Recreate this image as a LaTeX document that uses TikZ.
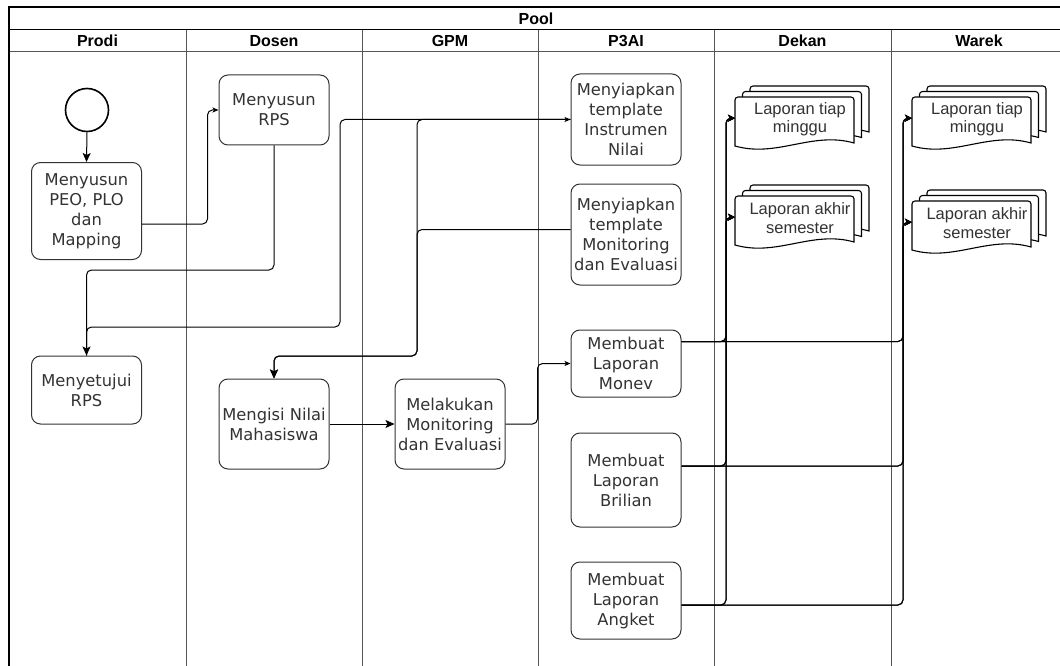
\documentclass[tikz,border=0pt]{standalone}
\usepackage{fontspec}
\setmainfont{DejaVu Sans}
\newfontfamily\hfont{Liberation Sans}
\usetikzlibrary{arrows.meta,calc}
\definecolor{txt}{RGB}{51,51,51}
\definecolor{lanec}{RGB}{85,85,85}
\tikzset{
 proc/.style={draw=black!80, rounded corners=9pt, line width=1pt, align=center,
   font=\fontsize{16.3}{20}\selectfont, text=txt, inner sep=0pt, minimum width=110pt},
 conn/.style={draw=black, line width=1pt, rounded corners=5pt},
 bigarr/.style={-{Stealth[length=9pt,width=8pt,inset=2pt]}},
 smallarr/.style={-{Stealth[length=6pt,width=5pt,inset=1.5pt]}},
 midarr/.style={-{Stealth[length=7pt,width=7pt,inset=1.8pt]}},
 lanehead/.style={font=\hfont\bfseries\fontsize{16}{18}\selectfont},
 doctext/.style={font=\hfont\fontsize{16.5}{18.5}\selectfont, align=center, text=txt},
 lane/.style={draw=lanec, line width=1pt},
}
\newcommand{\dpage}[2]{%
 \filldraw[draw=black, fill=white, line width=1.1pt] ({#1},{#2+49}) [rounded corners=3pt]-- ({#1},{#2}) -- ({#1+119},{#2}) [sharp corners]-- ({#1+119},{#2+46}) .. controls ({#1+77},{#2+34}) and ({#1+42},{#2+61}) .. ({#1},{#2+49}) -- cycle;}
\newcommand{\docstack}[4]{%
 \dpage{#2+15}{#3-11}
 \dpage{#2+7.5}{#3-5.5}
 \dpage{#2}{#3}
 \node[doctext] at ({#2+65},{#3+22}) {#4};
 \node[inner sep=0pt, minimum width=134pt, minimum height=64pt, anchor=north west] (#1) at ({#2},{#3-11}) {};
}
\begin{document}
\begin{tikzpicture}[x=1pt,y=-1pt]
\useasboundingbox (0,0) rectangle (1060,666);
\clip (0,0) rectangle (1060,666);
\fill[white] (0,0) rectangle (1060,666);
% pool
\draw[lane] (186,30) -- (186,700);
\draw[lane] (362,30) -- (362,700);
\draw[lane] (538,30) -- (538,700);
\draw[lane] (714.5,30) -- (714.5,700);
\draw[lane] (891,30) -- (891,700);
\draw[lane] (9,52) -- (1067,52);
\draw[black, line width=1pt] (9,30) -- (1067,30);
\draw[black, line width=1.2pt] (9,7) rectangle (1067,700);
\node[lanehead] (pool) at (536,18.5) {Pool};
\node[lanehead] (hprodi) at (97.5,41) {Prodi};
\node[lanehead] (hdosen) at (274,41) {Dosen};
\node[lanehead] (hgpm) at (450,41) {GPM};
\node[lanehead] (hp3ai) at (626,41) {P3AI};
\node[lanehead] (hdekan) at (802.5,41) {Dekan};
\node[lanehead] (hwarek) at (979,41) {Warek};
% start
\node[circle, draw=black, line width=1.6pt, minimum size=43pt, inner sep=0pt] (start) at (87,110) {};
% process boxes
\node[proc, minimum height=70pt] (rps) at (274,110) {Menyusun\\RPS};
\node[proc, minimum height=97pt] (peo) at (86.5,211) {Menyusun\\PEO, PLO\\dan\\Mapping};
\node[proc, minimum height=68pt] (setuju) at (86.5,390) {Menyetujui\\RPS};
\node[proc, minimum height=90pt] (mengisi) at (274,424) {Mengisi Nilai\\Mahasiswa};
\node[proc, minimum height=90pt] (melakukan) at (450,424) {Melakukan\\Monitoring\\dan Evaluasi};
\node[proc, minimum height=91pt] (instrumen) at (626,119.5) {Menyiapkan\\template\\Instrumen\\Nilai};
\node[proc, minimum height=101pt] (monitoring) at (626,234.5) {Menyiapkan\\template\\Monitoring\\dan Evaluasi};
\node[proc, minimum height=67pt] (monev) at (626,363.5) {Membuat\\Laporan\\Monev};
\node[proc, minimum height=94pt] (brilian) at (626,480) {Membuat\\Laporan\\Brilian};
\node[proc, minimum height=77pt] (angket) at (626,600.5) {Membuat\\Laporan\\Angket};
% documents
\docstack{dm}{735}{97}{Laporan tiap\\minggu}
\docstack{da}{735}{196}{Laporan akhir\\semester}
\docstack{wm}{912}{97}{Laporan tiap\\minggu}
\docstack{wa}{912}{201}{Laporan akhir\\semester}
% connectors
\draw[conn,bigarr] (start.south) -- (peo.north);
\draw[conn,smallarr] ([yshift=-13pt]peo.east) -| ([xshift=-11pt]rps.west) -- (rps.west);
\draw[conn,bigarr] (rps.south) -- (274,270) -| (setuju.north);
\draw[conn,smallarr] (setuju.north) |- (340,327) |- (instrumen.west);
\draw[conn,bigarr] (instrumen.west) -| (417,356) -| (mengisi.north);
\draw[conn,bigarr] ([yshift=5pt]monitoring.west) -| (417,356) -| (mengisi.north);
\draw[conn,bigarr] (mengisi.east) -- (melakukan.west);
\draw[conn,smallarr] (melakukan.east) -| ([xshift=-33pt]monev.west) -- (monev.west);
\foreach \s/\o in {monev/22,brilian/14,angket/-4.5}{
  \foreach \t in {dm,da,wm,wa}{
    \draw[conn,midarr] ([yshift=\o pt]\s.east) -| ([xshift=-9pt]\t.west) -- (\t.west);
  }
}
\end{tikzpicture}
\end{document}
